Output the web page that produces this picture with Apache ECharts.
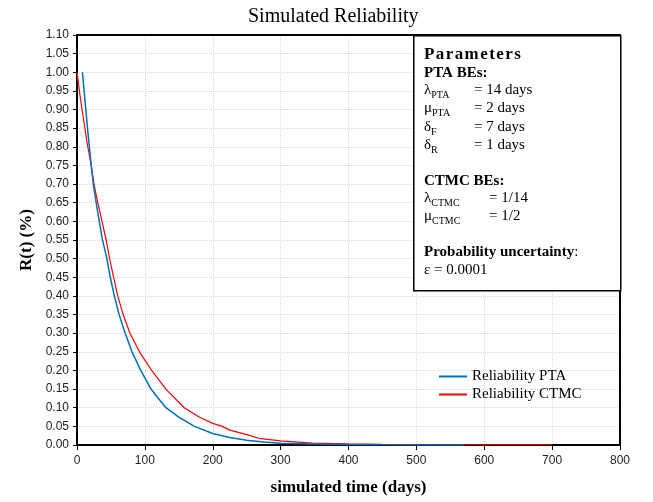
<!DOCTYPE html>
<html>
<head>
    <meta charset="utf-8">
    <title>Simulated Reliability</title>
    <script src="https://cdn.jsdelivr.net/npm/echarts@6/dist/echarts.min.js"></script>
    <style>
        html, body { margin: 0; padding: 0; background: #fff; }
        #chart { width: 653px; height: 502px; }
    </style>
</head>
<body>
    <div id="chart"></div>
    <script>
        // values
        var ptaTime = [8, 12, 16, 21, 24, 30, 37, 44, 49, 55, 62, 71, 81, 94, 109, 120, 131, 150, 173, 200, 225, 250, 275, 300, 350, 400, 450, 500, 570];
        var ptaValue = [1.00, 0.92, 0.84, 0.75, 0.70, 0.63, 0.555, 0.50, 0.45, 0.40, 0.35, 0.30, 0.25, 0.20, 0.15, 0.125, 0.10, 0.075, 0.05, 0.031, 0.02, 0.013, 0.008, 0.005, 0.0025, 0.0012, 0.0006, 0.0003, 0.0001];

        var ctmcTime = [0, 5, 10, 15, 21, 25, 30, 43, 48, 54, 60, 68, 78, 92, 110, 131, 158, 180, 200, 214, 225, 250, 268, 300, 347, 400, 450, 500, 600, 700];
        var ctmcValue = [1.00, 0.93, 0.87, 0.81, 0.75, 0.70, 0.655, 0.55, 0.50, 0.45, 0.40, 0.35, 0.30, 0.25, 0.20, 0.15, 0.10, 0.075, 0.058, 0.05, 0.04, 0.028, 0.018, 0.011, 0.005, 0.003, 0.0015, 0.0008, 0.0003, 0.0001];

        var seriesNames = ['Reliability PTA', 'Reliability CTMC'];

        function zip(xs, ys) {
            var out = [];
            for (var i = 0; i < xs.length; i++) out.push([xs[i], ys[i]]);
            return out;
        }

        var serif = '"Liberation Serif", "Times New Roman", serif';
        var sans = '"Liberation Sans", Arial, sans-serif';

        // parameter box text
        function lineText(x, y, rich) {
            return {
                type: 'text', left: x, top: y, z: 101,
                style: Object.assign({
                    fill: '#000', font: '15px ' + serif,
                    verticalAlign: 'middle',
                    rich: {
                        m: { fontFamily: serif, fontSize: 15, lineHeight: 20, fill: '#000' },
                        s: { fontFamily: serif, fontSize: 10, lineHeight: 10, verticalAlign: 'bottom', fill: '#000' },
                        b: { fontFamily: serif, fontSize: 15, fontWeight: 'bold', lineHeight: 20, fill: '#000' }
                    }
                }, rich)
            };
        }

        // top and right edges of the plot frame
        var frameAxis = {
            show: true,
            axisLine: { show: true, onZero: false, lineStyle: { color: '#000', width: 2 } },
            axisTick: { show: false },
            axisLabel: { show: false },
            splitLine: { show: false }
        };

        var chart = echarts.init(document.getElementById('chart'));

        var option = {
            backgroundColor: '#fff',
            animation: false,
            title: {
                text: 'Simulated Reliability',
                left: 243, top: 2,
                textStyle: { fontFamily: serif, fontSize: 20, fontWeight: 'normal', color: '#000' }
            },
            grid: {
                left: 77, right: 33, top: 35, bottom: 57
            },
            legend: {
                orient: 'vertical',
                left: 434, top: 364,
                icon: 'rect',
                itemWidth: 28, itemHeight: 2, itemGap: 3,
                textStyle: { fontFamily: serif, fontSize: 15, color: '#000' },
                data: seriesNames
            },
            xAxis: [{
                type: 'value', min: 0, max: 800, interval: 100,
                name: 'simulated time (days)', nameLocation: 'middle', nameGap: 34,
                nameTextStyle: { fontFamily: serif, fontSize: 17, fontWeight: 'bold', color: '#000' },
                axisLine: { onZero: false, lineStyle: { color: '#000', width: 2 } },
                axisTick: { show: true, length: 5, lineStyle: { color: '#000' } },
                axisLabel: { fontFamily: sans, fontSize: 12, color: '#222', margin: 10 },
                splitLine: { show: true, lineStyle: { color: '#d9d9d9', type: 'dotted' } }
            }, Object.assign({ type: 'value', position: 'top', min: 0, max: 800 }, frameAxis)],
            yAxis: [{
                type: 'value', min: 0, max: 1.10, interval: 0.05,
                name: 'R(t) (%)', nameLocation: 'middle', nameGap: 40,
                nameTextStyle: { fontFamily: serif, fontSize: 17, fontWeight: 'bold', color: '#000' },
                axisLine: { show: true, onZero: false, lineStyle: { color: '#000', width: 2 } },
                axisTick: { show: true, length: 4, lineStyle: { color: '#000' } },
                axisLabel: {
                    fontFamily: sans, fontSize: 12, color: '#222', margin: 8,
                    formatter: function (v) { return v.toFixed(2); }
                },
                splitLine: { show: true, lineStyle: { color: '#d9d9d9', type: 'dotted' } }
            }, Object.assign({ type: 'value', position: 'right', min: 0, max: 1.10 }, frameAxis)],
            series: [{
                name: seriesNames[0],
                type: 'line',
                symbol: 'none',
                lineStyle: { color: '#0070C0', width: 1.5 },
                itemStyle: { color: '#0070C0' },
                data: zip(ptaTime, ptaValue),
                z: 3
            }, {
                name: seriesNames[1],
                type: 'line',
                symbol: 'none',
                lineStyle: { color: '#FF0000', width: 1.2 },
                itemStyle: { color: '#FF0000' },
                data: zip(ctmcTime, ctmcValue),
                z: 2
            }],
            graphic: [
                {
                    type: 'rect', left: 413, top: 35, z: 100,
                    shape: { width: 207, height: 255 },
                    style: { fill: '#fff', stroke: '#000', lineWidth: 1.5 }
                },
                lineText(424, 46, { text: 'P\u200Aa\u200Ar\u200Aa\u200Am\u200Ae\u200At\u200Ae\u200Ar\u200As', font: 'bold 17px ' + serif }),
                lineText(424, 66, { text: 'PTA BEs:', font: 'bold 15px ' + serif }),
                lineText(424, 83, { text: '{m|λ}{s|PTA}' }),
                lineText(474, 83, { text: '= 14 days' }),
                lineText(424, 101, { text: '{m|μ}{s|PTA}' }),
                lineText(474, 101, { text: '= 2 days' }),
                lineText(424, 120, { text: '{m|δ}{s|F}' }),
                lineText(474, 120, { text: '= 7 days' }),
                lineText(424, 138, { text: '{m|δ}{s|R}' }),
                lineText(474, 138, { text: '= 1 days' }),
                lineText(424, 174, { text: 'CTMC BEs:', font: 'bold 15px ' + serif }),
                lineText(424, 191, { text: '{m|λ}{s|CTMC}' }),
                lineText(489, 191, { text: '= 1/14' }),
                lineText(424, 209, { text: '{m|μ}{s|CTMC}' }),
                lineText(489, 209, { text: '= 1/2' }),
                lineText(424, 245, { text: '{b|Probability uncertainty}{m|:}' }),
                lineText(424, 263, { text: 'ε = 0.0001' })
            ]
        };

        chart.setOption(option);
    </script>
</body>
</html>
